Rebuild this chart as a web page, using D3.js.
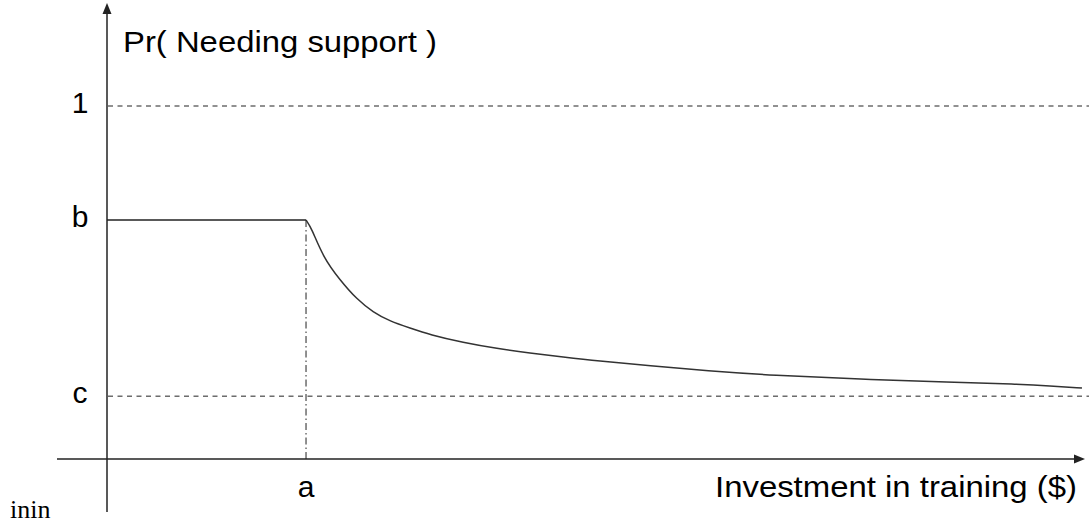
<!DOCTYPE html>
<html>
<head>
<meta charset="utf-8">
<script src="https://cdn.jsdelivr.net/npm/d3@7"></script>
<style>
  body { margin: 0; background: #ffffff; }
  svg { display: block; }
</style>
</head>
<body>
<div id="chart"></div>
<script>
// values (x in investment units, y in probability units)
var aValue = 20.35;
var bValue = 0.677;
var cValue = 0.178;
var oneValue = 1;
var curveX = [20.35, 20.9, 22.09, 23.82, 25.56, 27.20, 28.94, 30.98, 33.03, 36.40, 39.88, 43.25, 46.63, 50.10, 55.52, 61.35, 68.10, 76.99, 86.20, 93.05, 96.42, 99.69];
var curveY = [0.677, 0.655, 0.572, 0.507, 0.452, 0.416, 0.390, 0.371, 0.352, 0.330, 0.313, 0.300, 0.289, 0.278, 0.264, 0.250, 0.237, 0.226, 0.218, 0.212, 0.207, 0.201];
var yTickValues = [oneValue, bValue, cValue];
var yTickLabels = ["1", "b", "c"];
var yTitle = "Pr( Needing support )";
var xTitle = "Investment in training ($)";

var w = 1089, h = 524;
var svg = d3.select("#chart").append("svg").attr("width", w).attr("height", h);

var x = d3.scaleLinear().domain([0, 100]).range([107, 1085]);
var y = d3.scaleLinear().domain([0, 1]).range([459, 106]);

var ink = "#222";
var font = "'Liberation Sans', Arial, sans-serif";

// dashed reference lines at 1 and c
svg.selectAll("line.ref").data([oneValue, cValue]).enter().append("line")
    .attr("class", "ref")
    .attr("x1", x(0) + 1).attr("x2", w)
    .attr("y1", function (d) { return y(d); }).attr("y2", function (d) { return y(d); })
    .attr("stroke", ink).attr("stroke-width", 1).attr("stroke-dasharray", "5,4.5");

// dash-dot drop line at a
svg.append("line")
    .attr("x1", x(aValue)).attr("x2", x(aValue))
    .attr("y1", y(bValue)).attr("y2", y(0))
    .attr("stroke", ink).attr("stroke-width", 1).attr("stroke-dasharray", "7,3,1.5,3");

// flat part then decay
var pts = [[0, bValue]].concat(curveX.map(function (d, i) { return [d, curveY[i]]; }));
svg.append("path")
    .attr("d", d3.line().x(function (d) { return x(d[0]); }).y(function (d) { return y(d[1]); })(pts.slice(0, 2)))
    .attr("fill", "none").attr("stroke", ink).attr("stroke-width", 1.5);
var line_generator = d3.line().x(function (d) { return x(d[0]); }).y(function (d) { return y(d[1]); }).curve(d3.curveBasis);
svg.append("path")
    .attr("d", line_generator(pts.slice(1)))
    .attr("fill", "none").attr("stroke", "#333").attr("stroke-width", 1.5);

// axes with arrow heads
svg.append("line").attr("x1", 57).attr("x2", 1074).attr("y1", y(0)).attr("y2", y(0))
    .attr("stroke", ink).attr("stroke-width", 1.5);
svg.append("path").attr("d", "M1074," + (y(0) - 4.5) + "L1085," + y(0) + "L1074," + (y(0) + 4.5) + "Z").attr("fill", ink);
svg.append("line").attr("x1", x(0)).attr("x2", x(0)).attr("y1", 13).attr("y2", 512)
    .attr("stroke", ink).attr("stroke-width", 1.5);
svg.append("path").attr("d", "M" + (x(0) - 4.5) + ",14L" + x(0) + ",3L" + (x(0) + 4.5) + ",14Z").attr("fill", ink);

// tick labels
svg.selectAll("text.ytick").data(yTickValues).enter().append("text")
    .attr("class", "ytick")
    .attr("x", 80).attr("y", function (d) { return y(d) + 7; })
    .attr("text-anchor", "middle")
    .attr("font-family", font).attr("font-size", 30).attr("fill", "#000")
    .text(function (d, i) { return yTickLabels[i]; });

svg.append("text").attr("x", x(aValue)).attr("y", 497)
    .attr("text-anchor", "middle")
    .attr("font-family", font).attr("font-size", 30).attr("fill", "#000")
    .text("a");

svg.append("text").attr("x", 123).attr("y", 52)
    .attr("font-family", font).attr("font-size", 30).attr("fill", "#000")
    .attr("textLength", 314).attr("lengthAdjust", "spacingAndGlyphs")
    .text(yTitle);

svg.append("text").attr("x", 715).attr("y", 497)
    .attr("font-family", font).attr("font-size", 30).attr("fill", "#000")
    .attr("textLength", 362).attr("lengthAdjust", "spacingAndGlyphs")
    .text(xTitle);

svg.append("text").attr("x", 10).attr("y", 518)
    .attr("font-family", "'Liberation Serif', 'Times New Roman', serif").attr("font-size", 26).attr("fill", "#000")
    .text("inin");
</script>
</body>
</html>
